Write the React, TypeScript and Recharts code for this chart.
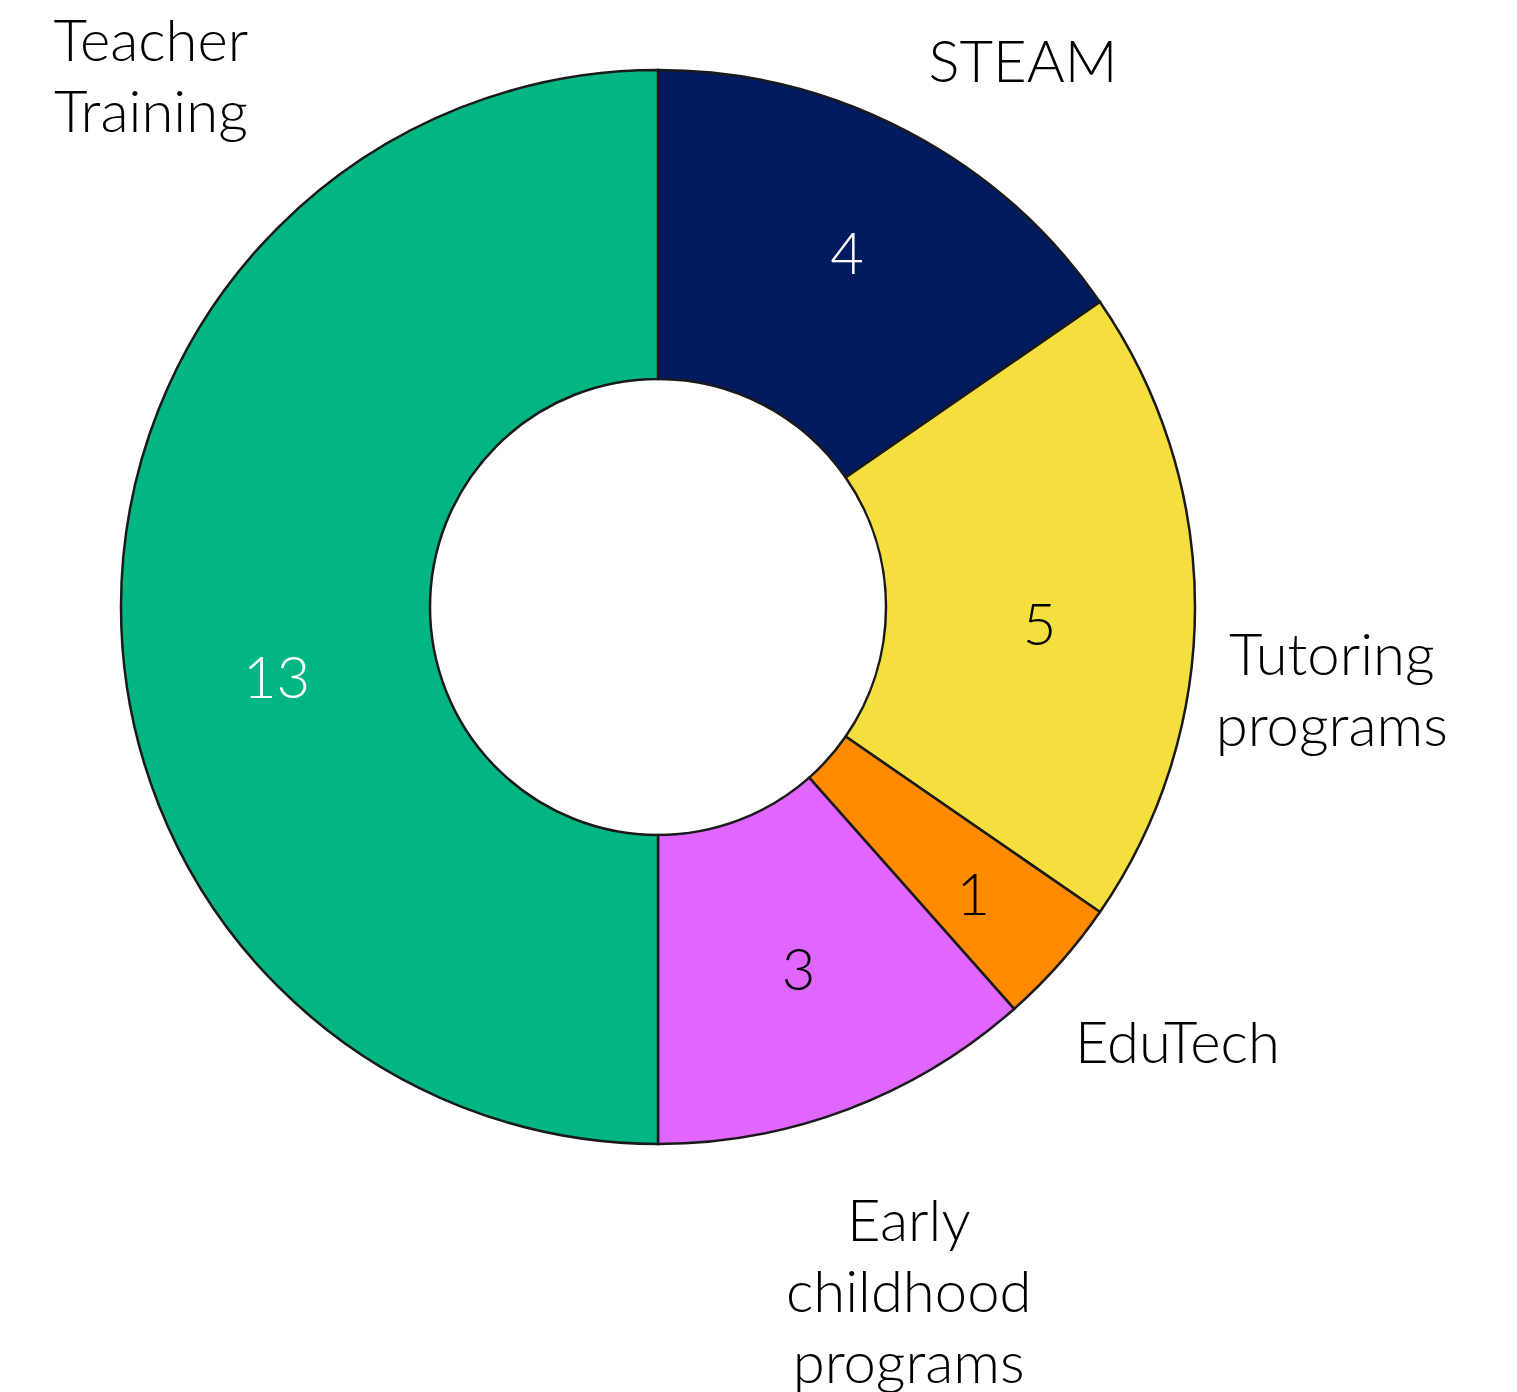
import React from 'react';
import { PieChart, Pie, Cell } from 'recharts';

const categories = ['STEAM', 'Tutoring programs', 'EduTech', 'Early childhood programs', 'Teacher Training'];
const values = [4, 5, 1, 3, 13];
const labelLines = [['STEAM'], ['Tutoring', 'programs'], ['EduTech'], ['Early', 'childhood', 'programs'], ['Teacher', 'Training']];
const colors = ['#021A60', '#F5DF3F', '#FF8A00', '#E066FF', '#02B683'];
const valueColors = ['#ffffff', '#000000', '#000000', '#000000', '#ffffff'];

// label placement in polar terms: [degrees clockwise from 12 o'clock, distance from centre]
const namePlacement = [[33.8, 656], [97.1, 679], [130.0, 678], [159.9, 729.5], [316.3, 734]];
const valuePlacement = [[28.2, 400], [92.7, 382], [132.4, 427], [158.8, 389], [259.4, 388]];

const data = categories.map((name, i) => ({ name, value: values[i] }));

const FONT = 'Lato, sans-serif';
const FS = 58;
const LH = 71;
const CAP = 20;

const polar = (cx: number, cy: number, deg: number, r: number) => {
  const t = (deg * Math.PI) / 180;
  return { x: cx + r * Math.sin(t), y: cy - r * Math.cos(t) };
};

const renderLabel = (props: any) => {
  const { cx, cy, index, value } = props;
  const np = namePlacement[index];
  const vp = valuePlacement[index];
  const n = polar(cx, cy, np[0], np[1]);
  const v = polar(cx, cy, vp[0], vp[1]);
  const lines = labelLines[index];
  return (
    <g key={`lbl-${index}`}>
      <text x={v.x} y={v.y + CAP} textAnchor="middle" fill={valueColors[index]} fontSize={FS} fontFamily={FONT} fontWeight={300}>
        {value}
      </text>
      {lines.map((ln, i) => (
        <text
          key={i}
          x={n.x}
          y={n.y + (i - (lines.length - 1) / 2) * LH + CAP}
          textAnchor="middle"
          fill="#000"
          fontSize={FS}
          fontFamily={FONT}
          fontWeight={300}
        >
          {ln}
        </text>
      ))}
    </g>
  );
};

export default function App() {
  return (
    <div style={{ position: 'absolute', left: 0, top: 0, width: 1517, height: 1392, background: '#fff' }}>
      <PieChart width={1517} height={1392} margin={{ top: 0, right: 0, bottom: 0, left: 0 }}>
        <Pie
          data={data}
          dataKey="value"
          nameKey="name"
          cx={658}
          cy={607}
          innerRadius={228}
          outerRadius={537}
          startAngle={90}
          endAngle={-270}
          stroke="#1a1a1a"
          strokeWidth={2.5}
          label={renderLabel}
          labelLine={false}
          isAnimationActive={false}
        >
          {data.map((d, i) => (
            <Cell key={d.name} fill={colors[i]} />
          ))}
        </Pie>
      </PieChart>
    </div>
  );
}
